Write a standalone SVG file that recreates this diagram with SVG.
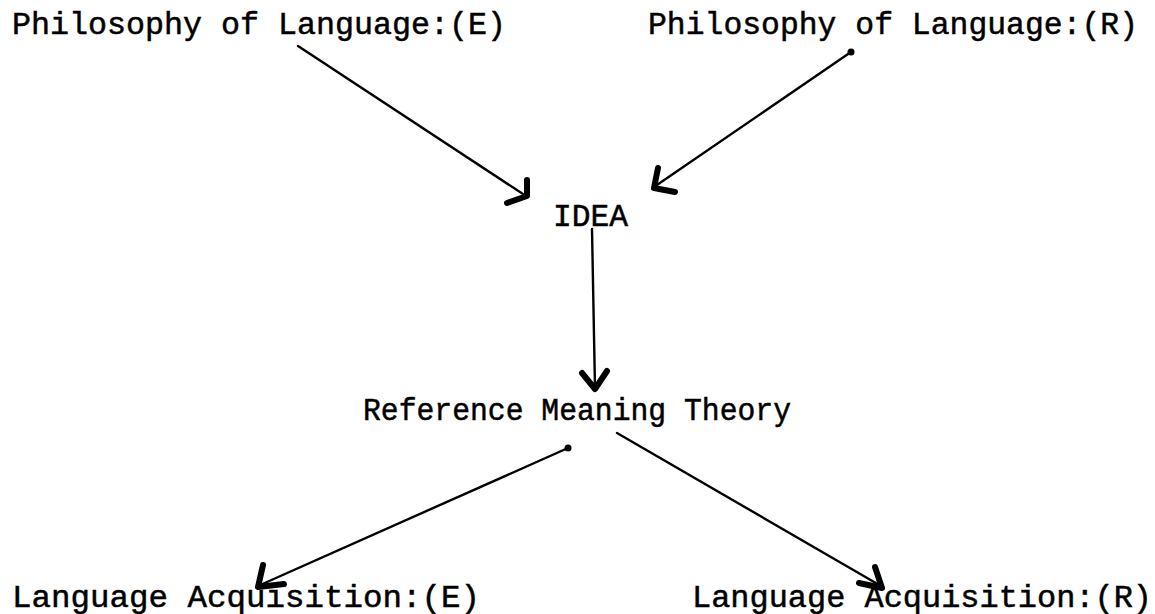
<svg xmlns="http://www.w3.org/2000/svg" width="1155" height="614" viewBox="0 0 1155 614">
<style>
  text { font-family: "Liberation Mono", "Courier New", monospace; font-size: 31px; fill: #000; stroke: #000; stroke-width: 0.5px; }
  .line { fill: none; stroke: #000; stroke-width: 2.4; stroke-linecap: round; stroke-linejoin: round; }
  .head { fill: none; stroke: #000; stroke-width: 6; stroke-linecap: round; stroke-linejoin: round; }
  .dot { fill: #000; }
</style>
<rect width="1155" height="614" fill="#fff"/>
<g id="phil-e"><text x="12" y="34" textLength="494" lengthAdjust="spacingAndGlyphs">Philosophy of Language:(E)</text></g>
<g id="phil-r"><text x="648" y="34" textLength="490" lengthAdjust="spacingAndGlyphs">Philosophy of Language:(R)</text></g>
<g id="idea"><text x="553" y="226" textLength="75" lengthAdjust="spacingAndGlyphs">IDEA</text></g>
<g id="rmt"><text x="363" y="420" textLength="428" lengthAdjust="spacingAndGlyphs">Reference Meaning Theory</text></g>
<g id="lang-e"><text x="12" y="607" textLength="468" lengthAdjust="spacingAndGlyphs">Language Acquisition:(E)</text></g>
<g id="lang-r"><text x="692" y="607" textLength="460" lengthAdjust="spacingAndGlyphs">Language Acquisition:(R)</text></g>
<g id="connectors">
  <path class="line" d="M298,46 L526,196"/>
  <path class="head" d="M527,180 L527,196 L507,203"/>
  <path class="line" d="M851,52 L654,187"/>
  <circle class="dot" cx="851" cy="52" r="3.5"/>
  <path class="head" d="M658,168 L654,188 L675,192"/>
  <path class="line" d="M592,229 L595,388"/>
  <path class="head" d="M582,373 L595,389 L607,371"/>
  <path class="line" d="M568,448 L258,586"/>
  <circle class="dot" cx="568" cy="448" r="3.5"/>
  <path class="head" d="M263,565 L258,587 L284,584"/>
  <path class="line" d="M617,433 L881,586"/>
  <path class="head" d="M875,567 L882,588 L859,583"/>
</g>
</svg>
